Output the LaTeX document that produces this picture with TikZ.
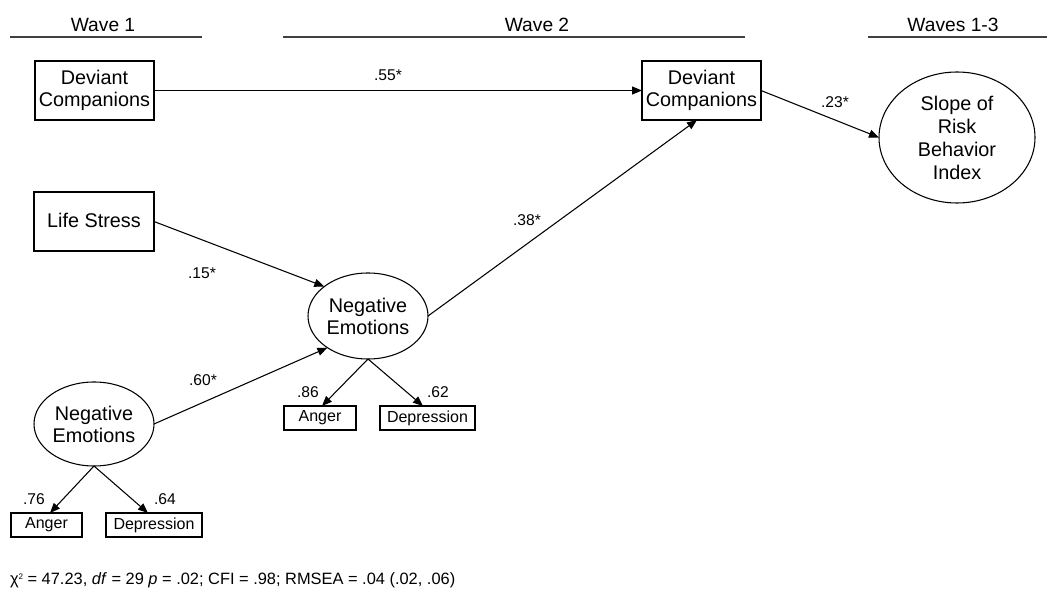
\documentclass[tikz,border=0pt]{standalone}
\usepackage{fontspec}
\setmainfont{Liberation Sans}
\usetikzlibrary{shapes.geometric,arrows.meta,calc}
\begin{document}
\begin{tikzpicture}[x=0.75pt,y=-0.75pt,
  every node/.style={inner sep=0pt,outer sep=0pt},
  obsbox/.style={draw,line width=0.8pt,rectangle,align=center,font=\fontsize{14.85}{16.5}\selectfont},
  indbox/.style={draw,line width=0.8pt,rectangle,align=center,minimum height=18pt,font=\fontsize{12}{14}\selectfont},
  latent/.style={draw,line width=0.8pt,ellipse,align=center,font=\fontsize{14.85}{16.5}\selectfont},
  coef/.style={font=\fontsize{11.7}{14}\selectfont},
  hdr/.style={font=\fontsize{14.4}{17}\selectfont},
  hline/.style={line width=1.1pt,draw=black!75},
  arr/.style={line width=0.8pt,-{Triangle[length=7.5pt,width=6pt]}}
]
\useasboundingbox (0,0) rectangle (1050,602);

% headers
\node[hdr] (h1) at (103,25) {Wave 1};
\node[hdr] (h2) at (537,25) {Wave 2};
\node[hdr] (h3) at (953,25) {Waves 1-3};
\coordinate (h1a) at (10,37);   \coordinate (h1b) at (202,37);
\coordinate (h2a) at (283,37);  \coordinate (h2b) at (745,37);
\coordinate (h3a) at (868,37);  \coordinate (h3b) at (1047,37);
\draw[hline] (h1a) -- (h1b);
\draw[hline] (h2a) -- (h2b);
\draw[hline] (h3a) -- (h3b);

% nodes
\node[obsbox,minimum width=89.25pt,minimum height=44.25pt] (dc1) at (94.5,90.5) {Deviant\\Companions};
\node[obsbox,minimum width=89.25pt,minimum height=44.25pt] (dc2) at (701.5,90.5) {Deviant\\Companions};
\node[obsbox,minimum width=90pt,minimum height=44.25pt] (ls) at (94,221.5) {\raisebox{2pt}{Life Stress}};
\node[latent,minimum width=117pt,minimum height=98.25pt,font=\fontsize{14.85}{17.25}\selectfont] (slope) at (957,137.5) {Slope of\\Risk\\Behavior\\Index};
\node[latent,minimum width=90pt,minimum height=64.5pt] (ne2) at (368,316) {Negative\\Emotions};
\node[latent,minimum width=90pt,minimum height=63pt] (ne1) at (94,424) {Negative\\Emotions};
\node[indbox,minimum width=53.25pt] (a1) at (46.5,525) {Anger};
\node[indbox,minimum width=72pt] (d1) at (154,525) {Depression};
\node[indbox,minimum width=54pt] (a2) at (320,418) {Anger};
\node[indbox,minimum width=71.25pt] (d2) at (427.5,418) {Depression};

% paths
\draw[arr] (dc1) -- (dc2);
\draw[arr] (dc2.east) -- (slope.west);
\draw[arr] (ls.east) -- (ne2.146);
\draw[arr] (ne1.east) -- (ne2.218);
\draw[arr] (ne2.east) -- ($(dc2.south)+(-4.5,0)$);
\draw[arr] (ne2.south) -- ($(a2.north)+(2,0)$);
\draw[arr] (ne2.south) -- ($(d2.north)+(-4.5,0)$);
\draw[arr] (ne1.south) -- ($(a1.north)+(3.5,0)$);
\draw[arr] (ne1.south) -- ($(d1.north)+(-6,0)$);

% coefficients
\node[coef] (c55) at (388,75) {.55*};
\node[coef] (c23) at (835,102) {.23*};
\node[coef] (c38) at (527,220) {.38*};
\node[coef] (c15) at (202,273) {.15*};
\node[coef] (c60) at (203,380) {.60*};
\node[coef] (c86) at (308,392) {.86};
\node[coef] (c62) at (438,392) {.62};
\node[coef] (c76) at (34,499) {.76};
\node[coef] (c64) at (165,499) {.64};

% fit
\node[anchor=base west,font=\fontsize{12.3}{14}\selectfont] (fit) at (10,584) {χ\raisebox{0.55ex}{\fontsize{6}{7}\selectfont 2} = 47.23, \textit{df} = 29 \textit{p} = .02; CFI = .98; RMSEA = .04 (.02, .06)};
\end{tikzpicture}
\end{document}
